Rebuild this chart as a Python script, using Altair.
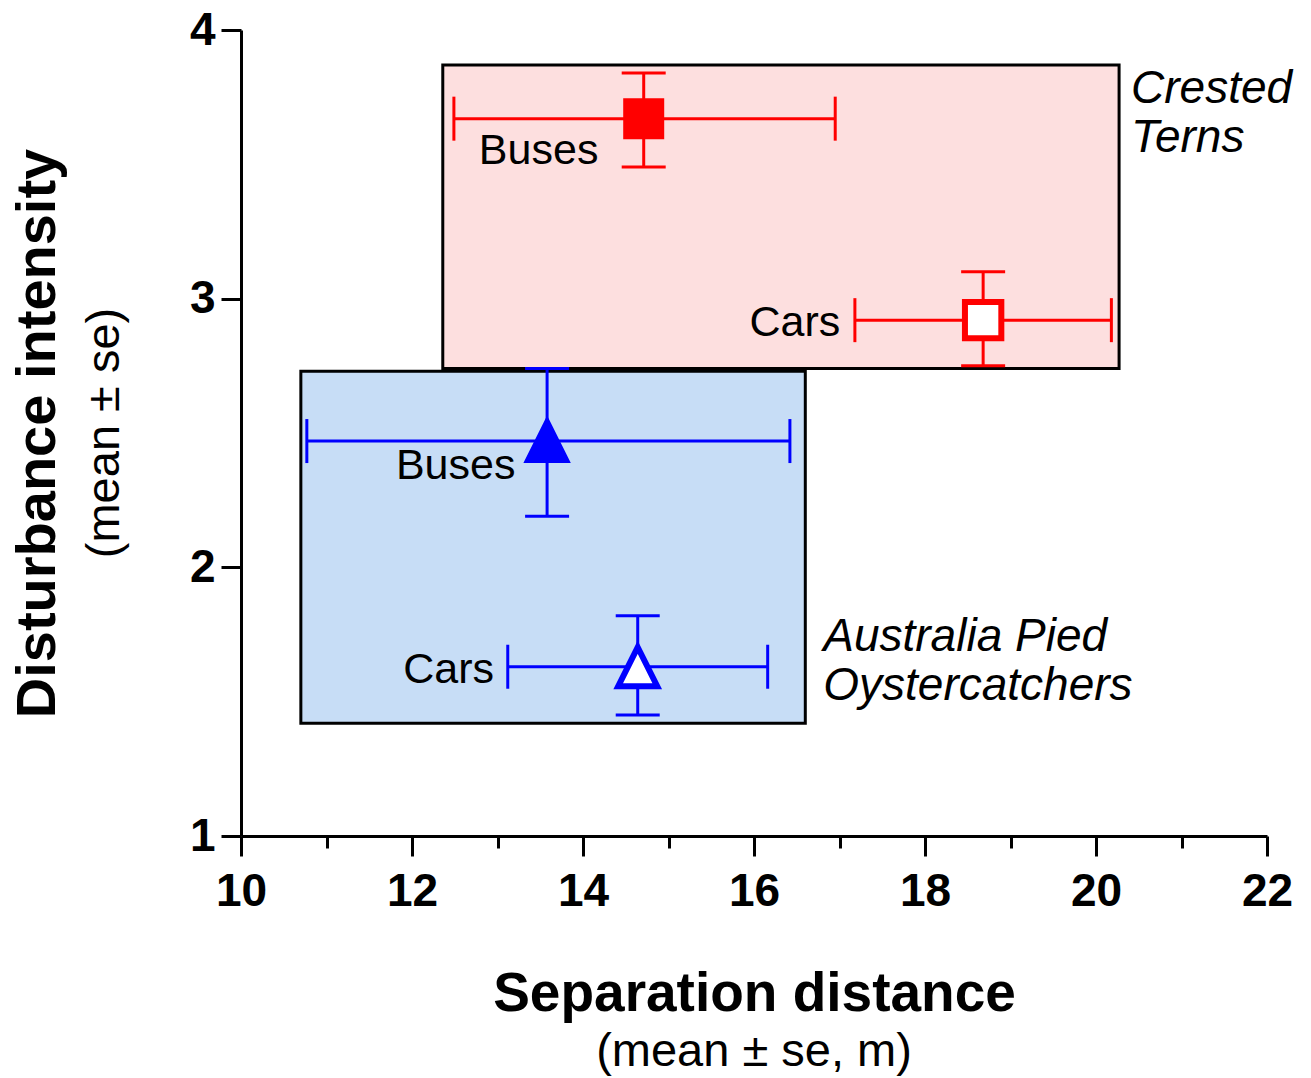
import altair as alt
import pandas as pd

# ---- data ----
groups = ["Crested Terns", "Crested Terns",
          "Australia Pied Oystercatchers", "Australia Pied Oystercatchers"]
vehicles = ["Buses", "Cars", "Buses", "Cars"]
sep_mean = [14.71, 18.68, 13.58, 14.64]
sep_low = [12.49, 17.18, 10.77, 13.12]
sep_high = [16.95, 20.18, 16.42, 16.16]
dist_mean = [3.67, 2.92, 2.47, 1.63]
dist_low = [3.49, 2.75, 2.19, 1.45]
dist_high = [3.84, 3.10, 2.74, 1.82]
label_x = [14.18, 17.01, 13.21, 12.96]
label_y = [3.50, 2.86, 2.33, 1.57]

box_groups = ["Crested Terns", "Australia Pied Oystercatchers"]
box_names = ["Crested\nTerns", "Australia Pied\nOystercatchers"]
box_x1 = [12.36, 10.70]
box_x2 = [20.27, 16.60]
box_y1 = [2.74, 1.42]
box_y2 = [3.87, 2.73]
name_x = [20.41, 16.81]
name_y = [3.73, 1.69]

x_ticks = list(range(10, 23))
y_ticks = [1, 2, 3, 4]

FONT = "Liberation Sans"
RED = "#ff0000"
BLUE = "#0000ff"
PINK = "#fddfdf"
LIGHTBLUE = "#c7ddf6"
TRIANGLE = "M0,-1L1,1L-1,1Z"

df = pd.DataFrame({
    "group": groups, "vehicle": vehicles,
    "sep_mean": sep_mean, "sep_low": sep_low, "sep_high": sep_high,
    "dist_mean": dist_mean, "dist_low": dist_low, "dist_high": dist_high,
    "label_x": label_x, "label_y": label_y,
})
df["key"] = df["group"] + " " + df["vehicle"]
keys = list(df["key"])

boxes_df = pd.DataFrame({
    "group": box_groups, "name": box_names,
    "x1": box_x1, "x2": box_x2, "y1": box_y1, "y2": box_y2,
    "name_x": name_x, "name_y": name_y,
})

xs = alt.Scale(domain=[10, 22], nice=False, zero=False)
ys = alt.Scale(domain=[1, 4], nice=False, zero=False)

x_axis = alt.Axis(
    values=x_ticks,
    labelExpr="datum.value % 2 === 0 ? datum.label : ''",
    tickSize={"condition": {"test": "datum.value % 2 === 0", "value": 20}, "value": 12},
    tickWidth=3, tickColor="black",
    domainWidth=3, domainColor="black",
    labelFont=FONT, labelFontSize=46, labelFontWeight="bold", labelColor="black",
    labelPadding=13, labelBaseline="top", labelFlush=False, labelOverlap=False,
    grid=False,
    title="Separation distance",
    titleFont=FONT, titleFontSize=55, titleFontWeight="bold", titleColor="black",
    titleY=174, titleBaseline="alphabetic",
)
y_axis = alt.Axis(
    values=y_ticks,
    tickSize=20, tickWidth=3, tickColor="black",
    domainWidth=3, domainColor="black",
    labelFont=FONT, labelFontSize=46, labelFontWeight="bold", labelColor="black",
    labelPadding=6, labelFlush=False, labelOverlap=False,
    grid=False,
    title="Disturbance intensity",
    titleFont=FONT, titleFontSize=56, titleFontWeight="bold", titleColor="black",
    titleAngle=270, titleX=-187, titleY=403, titleAlign="center",
    titleBaseline="alphabetic",
)

color_scale = alt.Scale(domain=box_groups, range=[RED, BLUE])

box_base = alt.Chart(boxes_df)
boxes = box_base.mark_rect(stroke="black", strokeWidth=3).encode(
    x=alt.X("x1:Q", scale=xs, axis=x_axis),
    x2="x2:Q",
    y=alt.Y("y1:Q", scale=ys, axis=y_axis),
    y2="y2:Q",
    fill=alt.condition("datum.group === 'Crested Terns'", alt.value(PINK), alt.value(LIGHTBLUE)),
)
names = box_base.mark_text(
    align="left", baseline="alphabetic", font=FONT, fontSize=46,
    fontStyle="italic", lineBreak="\n", lineHeight=49, color="black",
).encode(
    x=alt.X("name_x:Q", scale=xs, axis=x_axis),
    y=alt.Y("name_y:Q", scale=ys, axis=y_axis),
    text="name:N",
)

base = alt.Chart(df)
hbars = base.mark_rule(strokeWidth=3).encode(
    x=alt.X("sep_low:Q", scale=xs, axis=x_axis),
    x2="sep_high:Q",
    y=alt.Y("dist_mean:Q", scale=ys, axis=y_axis),
    color=alt.Color("group:N", scale=color_scale, legend=None),
)
vbars = base.mark_rule(strokeWidth=3).encode(
    x=alt.X("sep_mean:Q", scale=xs, axis=x_axis),
    y=alt.Y("dist_low:Q", scale=ys, axis=y_axis),
    y2="dist_high:Q",
    color=alt.Color("group:N", scale=color_scale, legend=None),
)
hcaps = base.transform_fold(["sep_low", "sep_high"], as_=["end", "xcap"]).mark_tick(
    orient="vertical", size=44, thickness=3, opacity=1
).encode(
    x=alt.X("xcap:Q", scale=xs, axis=x_axis),
    y=alt.Y("dist_mean:Q", scale=ys, axis=y_axis),
    color=alt.Color("group:N", scale=color_scale, legend=None),
)
vcaps = base.transform_fold(["dist_low", "dist_high"], as_=["end", "ycap"]).mark_tick(
    orient="horizontal", size=44, thickness=3, opacity=1
).encode(
    x=alt.X("sep_mean:Q", scale=xs, axis=x_axis),
    y=alt.Y("ycap:Q", scale=ys, axis=y_axis),
    color=alt.Color("group:N", scale=color_scale, legend=None),
)
points = base.mark_point(filled=True, strokeWidth=6, opacity=1, fillOpacity=1, strokeOpacity=1).encode(
    x=alt.X("sep_mean:Q", scale=xs, axis=x_axis),
    y=alt.Y("dist_mean:Q", scale=ys, axis=y_axis),
    shape=alt.Shape("group:N", scale=alt.Scale(domain=box_groups, range=["square", TRIANGLE]), legend=None),
    fill=alt.Fill("key:N", scale=alt.Scale(domain=keys, range=[RED, "white", BLUE, "white"]), legend=None),
    stroke=alt.Stroke("group:N", scale=color_scale, legend=None),
    size=alt.Size("key:O", scale=alt.Scale(domain=keys, range=[1225, 1521, 1521, 1681]), legend=None),
)
labels = base.mark_text(
    align="right", baseline="alphabetic", font=FONT, fontSize=43, color="black"
).encode(
    x=alt.X("label_x:Q", scale=xs, axis=x_axis),
    y=alt.Y("label_y:Q", scale=ys, axis=y_axis),
    text="vehicle:N",
)

sub_df = pd.DataFrame({"t": ["(mean \u00b1 se)", "(mean \u00b1 se, m)"]})
y_sub = alt.Chart(sub_df).transform_filter("datum.t === '(mean \u00b1 se)'").mark_text(
    font=FONT, fontSize=47, angle=270, align="center", baseline="alphabetic", color="black"
).encode(x=alt.value(-122), y=alt.value(403), text="t:N")
x_sub = alt.Chart(sub_df).transform_filter("datum.t === '(mean \u00b1 se, m)'").mark_text(
    font=FONT, fontSize=47, align="center", baseline="alphabetic", color="black"
).encode(x=alt.value(513), y=alt.value(1036), text="t:N")

chart = alt.layer(
    boxes, hbars, vbars, hcaps, vcaps, points, labels, names, y_sub, x_sub
).resolve_scale(
    color="shared"
).properties(
    width=1026, height=806,
    autosize=alt.AutoSizeParams(type="none"),
    padding={"left": 233, "top": 22, "right": 30, "bottom": 240},
    background="white",
).configure_view(strokeWidth=0)

chart.save("out.html", embed_options={"renderer": "svg", "actions": False})
